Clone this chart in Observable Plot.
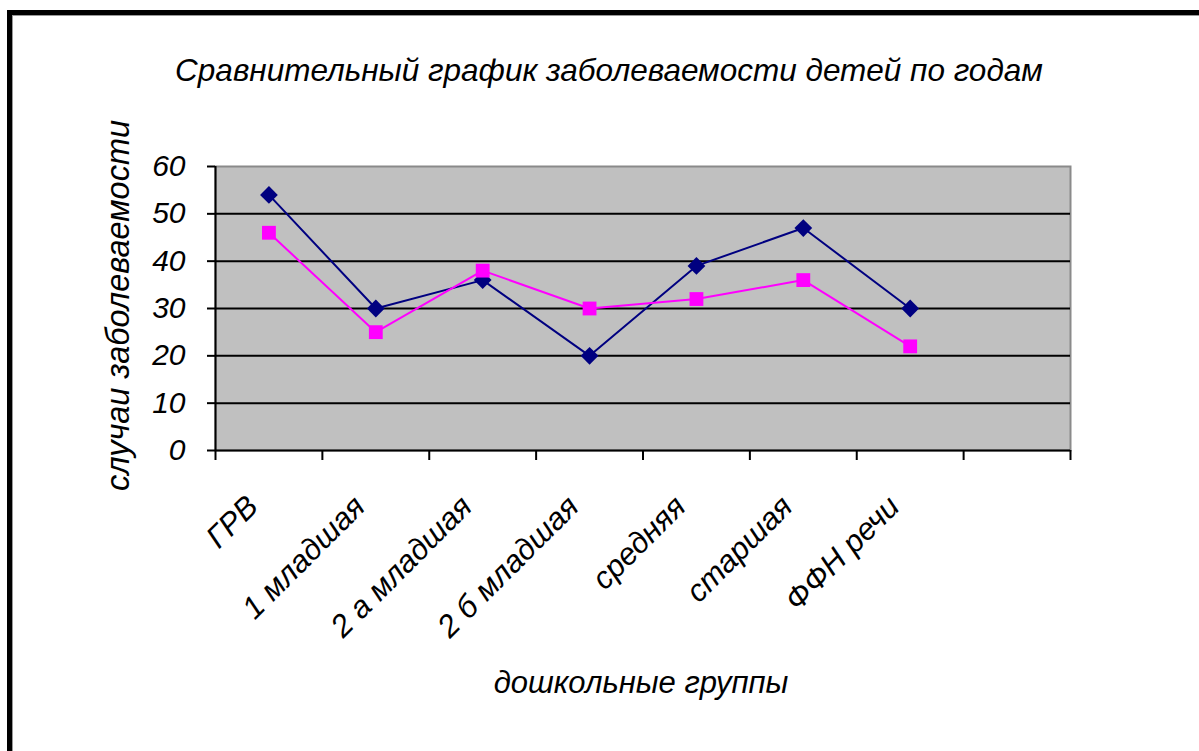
<!DOCTYPE html>
<html>
<head>
<meta charset="utf-8">
<script src="https://cdn.jsdelivr.net/npm/d3@7"></script>
<script src="https://cdn.jsdelivr.net/npm/@observablehq/plot@0.6"></script>
<style>
  html, body { margin: 0; padding: 0; background: #fff; }
  #wrap { position: relative; width: 1199px; height: 751px; overflow: hidden; }
  #border { position: absolute; left: 7px; top: 10px; width: 1300px; height: 900px;
            border-left: 5px solid #000; border-top: 5px solid #000;
            box-shadow: inset 1px 1px 0 #999; pointer-events: none; }
  #chart { position: absolute; left: 0; top: 0; }
</style>
</head>
<body>
<div id="wrap"><div id="chart"></div><div id="border"></div></div>
<script>
const title = "Сравнительный график заболеваемости детей по годам";
const yLabel = "случаи заболеваемости";
const xLabel = "дошкольные группы";
const categories = ["ГРВ", "1 младшая", "2 а младшая", "2 б младшая", "средняя", "старшая", "ФФН речи"];
const slotCount = 8;
const seriesNavy = [54, 30, 36, 20, 39, 47, 30];
const seriesPink = [46, 25, 38, 30, 32, 36, 22];
const yTicks = [0, 10, 20, 30, 40, 50, 60];
const gridValues = [10, 20, 30, 40, 50];

const rows = categories.map((c, i) => ({cat: c, pos: i + 0.5, navy: seriesNavy[i], pink: seriesPink[i]}));
const slotEdges = d3.range(slotCount + 1);

const font = "'Liberation Sans', Arial, sans-serif";

const chart = Plot.plot({
  width: 1199,
  height: 751,
  marginLeft: 215,
  marginRight: 129,
  marginTop: 166,
  marginBottom: 301,
  style: {fontFamily: font, fontStyle: "italic", fontSize: "30px", color: "#000", background: "transparent", overflow: "visible"},
  x: {type: "linear", domain: [0, slotCount], axis: null},
  y: {domain: [0, 60], axis: null},
  marks: [
    Plot.frame({fill: "#c0c0c0", stroke: "#8a8a8a", strokeWidth: 2}),
    Plot.ruleY(gridValues, {stroke: "#000", strokeWidth: 2}),
    Plot.ruleY([0], {stroke: "#000", strokeWidth: 2}),
    Plot.ruleX([0], {stroke: "#000", strokeWidth: 2}),
    Plot.axisY({ticks: yTicks, tickSize: 8, tickPadding: 22, tickFormat: d => String(d), fontSize: 30, label: null, stroke: "#000", strokeWidth: 2}),
    Plot.axisX({ticks: slotEdges, tickSize: 10, tickFormat: () => "", label: null, stroke: "#000", strokeWidth: 2}),
    Plot.text(rows, {x: "pos", y: () => 0, text: "cat", rotate: -45, textAnchor: "end", lineAnchor: "bottom", dx: -9, dy: 58, fontSize: 31}),
    Plot.line(rows, {x: "pos", y: "navy", stroke: "#000080", strokeWidth: 2}),
    Plot.dot(rows, {x: "pos", y: "navy", symbol: "diamond2", r: 8, fill: "#000080", stroke: "none"}),
    Plot.line(rows, {x: "pos", y: "pink", stroke: "#ff00ff", strokeWidth: 2}),
    Plot.dot(rows, {x: "pos", y: "pink", symbol: "square", r: 7.8, fill: "#ff00ff", stroke: "none"}),
    Plot.text([title], {frameAnchor: "top", textAnchor: "middle", dx: -34, dy: -108, fontSize: 31.5}),
    Plot.text([yLabel], {frameAnchor: "left", textAnchor: "middle", dx: -97, dy: -3, rotate: -90, fontSize: 32.5}),
    Plot.text([xLabel], {frameAnchor: "bottom", textAnchor: "middle", dx: -2, dy: 242, fontSize: 31})
  ]
});
document.getElementById("chart").appendChild(chart);
</script>
</body>
</html>
